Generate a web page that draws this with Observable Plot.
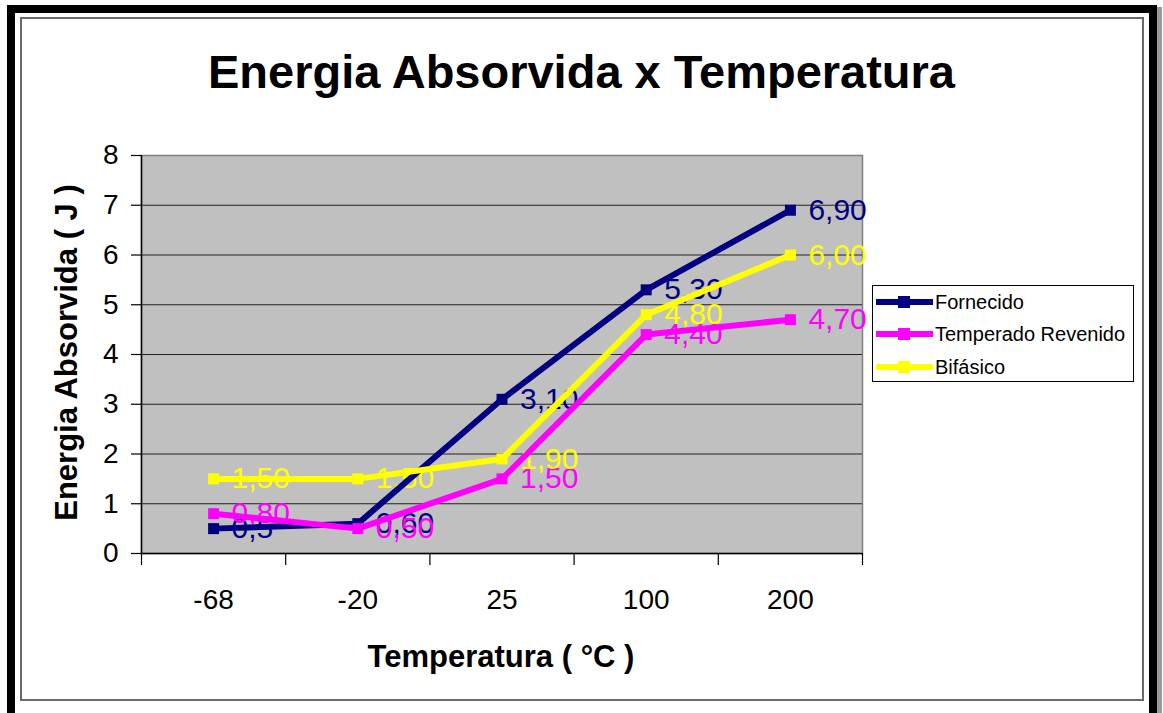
<!DOCTYPE html>
<html><head><meta charset="utf-8">
<script src="https://cdn.jsdelivr.net/npm/d3@7"></script>
<script src="https://cdn.jsdelivr.net/npm/@observablehq/plot@0.6"></script>
<style>
html,body{margin:0;padding:0;background:#fff;}
#wrap{position:relative;width:1163px;height:713px;overflow:hidden;font-family:Arial,"Liberation Sans",sans-serif;color:#000;}
#outer{position:absolute;left:7px;top:5px;width:1150px;height:716px;box-sizing:border-box;border:8px solid #000;box-shadow:5px 2px 0 #9a9a9a;}
#inner{position:absolute;left:20px;top:17px;width:1124px;height:684px;box-sizing:border-box;border:2px solid #6a6a6a;}
#title{position:absolute;left:0;top:48px;width:1163px;text-align:center;font-size:47px;line-height:47px;font-weight:bold;white-space:nowrap;}
#xtitle{position:absolute;left:301px;top:641px;width:400px;text-align:center;font-size:31px;line-height:31px;font-weight:bold;white-space:nowrap;}
#ytitle{position:absolute;left:-134px;top:337px;width:400px;height:31px;text-align:center;font-size:31px;line-height:31px;font-weight:bold;white-space:nowrap;transform:rotate(-90deg);}
#chart{position:absolute;left:0;top:0;}
#legend{position:absolute;left:872px;top:285px;width:262px;height:97px;box-sizing:border-box;border:1.5px solid #000;background:#fff;}
.entry{position:absolute;left:0;height:20px;width:260px;}
.sw{position:absolute;left:3px;top:7px;width:57px;height:6px;}
.mk{position:absolute;left:25px;top:4px;width:12px;height:12px;}
.lt{position:absolute;left:62px;top:0;font-size:20px;line-height:20px;white-space:nowrap;}
</style></head><body>
<div id="wrap">
  <div id="outer"></div>
  <div id="inner"></div>
  <div id="chart"></div>
  <div id="title"></div>
  <div id="xtitle"></div>
  <div id="ytitle"></div>
  <div id="legend"></div>
</div>
<script>
const titleText = "Energia Absorvida x Temperatura";
const xTitle = "Temperatura ( °C )";
const yTitle = "Energia Absorvida ( J )";
const categories = ["-68", "-20", "25", "100", "200"];
const seriesNames = ["Fornecido", "Temperado Revenido", "Bifásico"];
const seriesColors = ["#000080", "#FF00FF", "#FFFF00"];
const fornecido = [0.5, 0.6, 3.1, 5.3, 6.9];
const temperado = [0.8, 0.5, 1.5, 4.4, 4.7];
const bifasico = [1.5, 1.5, 1.9, 4.8, 6.0];
const labelsFornecido = ["0,5", "0,60", "3,10", "5,30", "6,90"];
const labelsTemperado = ["0,80", "0,50", "1,50", "4,40", "4,70"];
const labelsBifasico = ["1,50", "1,50", "1,90", "4,80", "6,00"];
const yTicks = [0, 1, 2, 3, 4, 5, 6, 7, 8];

document.getElementById("title").textContent = titleText;
document.getElementById("xtitle").textContent = xTitle;
document.getElementById("ytitle").textContent = yTitle;

const allValues = [fornecido, temperado, bifasico];
const allLabels = [labelsFornecido, labelsTemperado, labelsBifasico];
const table = [];
allValues.forEach((vals, s) => vals.forEach((v, i) => table.push({series: seriesNames[s], i, v, label: allLabels[s][i]})));
const idx = categories.map((_, i) => i);
const bounds = d3.range(categories.length + 1).map(i => i - 0.5);

const chart = Plot.plot({
  width: 1163, height: 713,
  marginLeft: 141, marginRight: 301, marginTop: 155, marginBottom: 160,
  x: {type: "linear", domain: [bounds[0], bounds[bounds.length - 1]], label: null},
  y: {domain: [yTicks[0], yTicks[yTicks.length - 1]], label: null},
  color: {domain: seriesNames, range: seriesColors},
  style: {fontFamily: "Arial, 'Liberation Sans', sans-serif", background: "transparent", overflow: "visible", color: "#000"},
  marks: [
    Plot.frame({fill: "#c0c0c0", stroke: "#808080", strokeWidth: 1.5}),
    Plot.ruleY(yTicks.slice(1, -1), {stroke: "#222", strokeWidth: 1.2}),
    Plot.ruleX([bounds[0]], {stroke: "#000", strokeWidth: 1.5}),
    Plot.ruleY([yTicks[0]], {stroke: "#000", strokeWidth: 1.5}),
    Plot.axisY(yTicks, {tickSize: 10, tickPadding: 13, tickFormat: d => String(d), fontSize: 28, label: null, stroke: "#000", strokeWidth: 1.2}),
    Plot.axisX(bounds, {tickSize: 12, tickFormat: () => "", label: null, stroke: "#000", strokeWidth: 1.2}),
    Plot.axisX(idx, {tickSize: 0, tickPadding: 36, tickFormat: i => categories[i], fontSize: 28, label: null}),
    Plot.text(table, {x: "i", y: "v", text: "label", fill: "series", dx: 18, textAnchor: "start", lineAnchor: "middle", fontSize: 30}),
    Plot.line(table, {x: "i", y: "v", z: "series", stroke: "series", strokeWidth: 6, strokeLinejoin: "miter"}),
    Plot.dot(table, {x: "i", y: "v", symbol: "square", fill: "series", r: 6.2})
  ]
});
document.getElementById("chart").appendChild(chart);

const legend = document.getElementById("legend");
const rowTops = [6, 38, 71];
seriesNames.forEach((name, s) => {
  const e = document.createElement("div");
  e.className = "entry";
  e.style.top = rowTops[s] + "px";
  e.innerHTML = `<div class="sw" style="background:${seriesColors[s]}"></div><div class="mk" style="background:${seriesColors[s]}"></div><div class="lt"></div>`;
  e.querySelector(".lt").textContent = name;
  legend.appendChild(e);
});
</script>
</body></html>
